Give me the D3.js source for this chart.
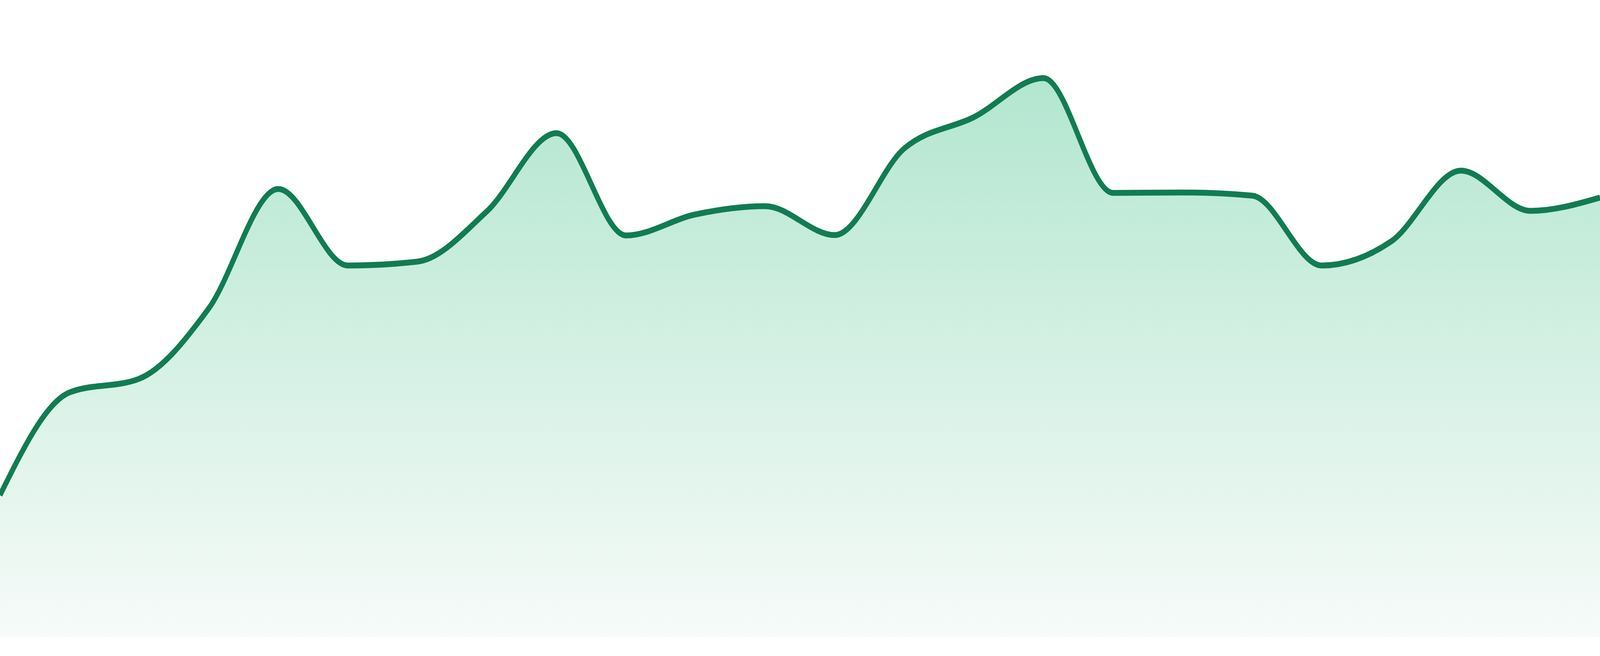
<!DOCTYPE html>
<html>
<head>
<meta charset="utf-8">
<script src="https://cdn.jsdelivr.net/npm/d3@7"></script>
<style>
	html, body { margin: 0; padding: 0; background: #fff; overflow: hidden; width: 100%; height: 100%; }
	#graph { width: 100vw; height: 100vh; }
</style>
</head>
<body>
<div id="graph"></div>
<script>
// data
const days = d3.range(1, 25).map((d) => "D" + d);
const values = [
	36.4, 62.7, 66.2, 84.2, 114.8, 95.2, 96.2, 109.1, 129.1, 102.9, 108.3, 110.4,
	103.0, 125.2, 133.2, 143.2, 113.8, 113.9, 113.1, 95.2, 101.4, 119.5, 109.2, 112.6,
];
const yDomain = [0, 144];

// the chart is laid out in a 4800x1680 box and stretched over the whole window
const width = 4800,
	height = 1680,
	baseY = 1632,
	topY = 192;

const svg = d3
	.select("#graph")
	.append("svg")
	.attr("viewBox", "0 0 " + width + " " + height)
	.attr("preserveAspectRatio", "none")
	.style("width", "100%")
	.style("height", "100%")
	.style("display", "block");

const data = days.map((d, i) => ({ day: d, value: values[i] }));

// x positions: first point on the left edge, last on the right edge
const x = d3.scalePoint().domain(days).range([0, width]);
const y = d3.scaleLinear().domain(yDomain).range([baseY, topY]);

// gradient for the area
const defs = svg.append("defs");
const grad = defs
	.append("linearGradient")
	.attr("id", "fillGrad")
	.attr("gradientUnits", "userSpaceOnUse")
	.attr("x1", 0)
	.attr("x2", 0)
	.attr("y1", y(d3.max(values)))
	.attr("y2", baseY);
grad.append("stop").attr("offset", "0%").attr("stop-color", "#b2e6cf");
grad.append("stop").attr("offset", "100%").attr("stop-color", "#f7fbf9");

const area = d3
	.area()
	.x((d) => x(d.day))
	.y0(baseY)
	.y1((d) => y(d.value))
	.curve(d3.curveMonotoneX);

const line = d3
	.line()
	.x((d) => x(d.day))
	.y((d) => y(d.value))
	.curve(d3.curveMonotoneX);

svg.append("path").datum(data).attr("d", area).attr("fill", "url(#fillGrad)");

svg
	.append("path")
	.datum(data)
	.attr("d", line)
	.attr("fill", "none")
	.attr("stroke", "#117c52")
	.attr("stroke-width", 15)
	.attr("stroke-linejoin", "round");
</script>
</body>
</html>
